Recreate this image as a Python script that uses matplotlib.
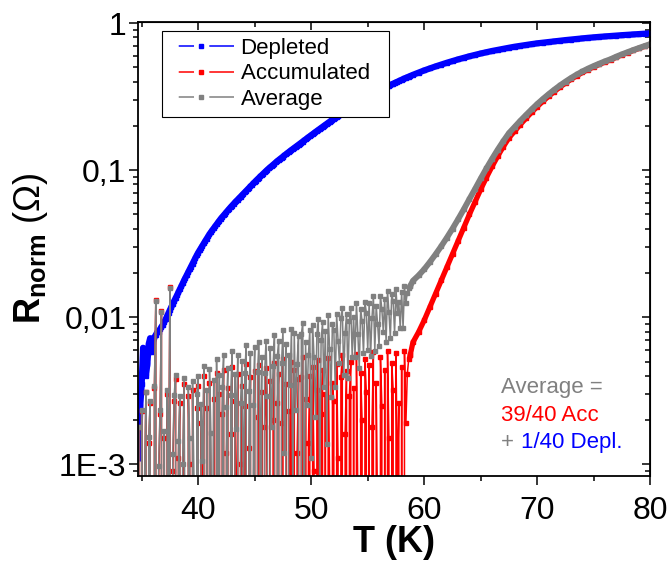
import numpy as np
import matplotlib
matplotlib.use("Agg")
import matplotlib.pyplot as plt
from matplotlib.lines import Line2D
from matplotlib.ticker import FixedLocator, FixedFormatter, MultipleLocator, NullFormatter, LogLocator

plt.rcParams['font.family'] = ['Liberation Sans', 'DejaVu Sans']
plt.rcParams['mathtext.fontset'] = 'custom'
plt.rcParams['mathtext.rm'] = 'Liberation Sans'
plt.rcParams['mathtext.bf'] = 'Liberation Sans:bold'
plt.rcParams['lines.scale_dashes'] = False

# temperature grid (K): fine steps in the noisy part, coarser above 58.75 K
T_low = np.arange(34.75, 58.63, 0.125)
T_high = np.concatenate([[58.75], np.arange(59.0, 80.01, 0.5)])
T = np.concatenate([T_low, T_high])

# depleted curve (normalised)
depleted = np.array([
    0.0011, 0.0025,
    0.0035, 0.0062, 0.0055, 0.0040, 0.0048, 0.0066, 0.0072, 0.0058,
    0.0068, 0.0073, 0.0076, 0.0079, 0.0080, 0.0083, 0.0086, 0.0089,
    0.0093, 0.0097, 0.0102, 0.0107, 0.0112, 0.0117, 0.0123, 0.0129,
    0.0135, 0.0141, 0.0148, 0.0155, 0.0162, 0.0170, 0.0178, 0.0186,
    0.0195, 0.0203, 0.0212, 0.0221, 0.0231, 0.0242, 0.0253, 0.0264,
    0.0275, 0.0285, 0.0296, 0.0307, 0.0318, 0.0330, 0.0342, 0.0354,
    0.0367, 0.0379, 0.0391, 0.0403, 0.0415, 0.0428, 0.0441, 0.0454,
    0.0468, 0.0480, 0.0493, 0.0506, 0.0519, 0.0533, 0.0547, 0.0561,
    0.0575, 0.0589, 0.0603, 0.0617, 0.0631, 0.0646, 0.0661, 0.0676,
    0.0692, 0.0708, 0.0724, 0.0741, 0.0758, 0.0776, 0.0794, 0.0813,
    0.0832, 0.0850, 0.0868, 0.0887, 0.0906, 0.0926, 0.0946, 0.0967,
    0.0989, 0.1008, 0.1027, 0.1047, 0.1067, 0.1088, 0.1109, 0.1131,
    0.1153, 0.1173, 0.1193, 0.1214, 0.1236, 0.1258, 0.1280, 0.1303,
    0.1327, 0.1349, 0.1371, 0.1394, 0.1417, 0.1440, 0.1464, 0.1489,
    0.1514, 0.1539, 0.1565, 0.1591, 0.1618, 0.1645, 0.1673, 0.1701,
    0.1730, 0.1758, 0.1787, 0.1817, 0.1847, 0.1877, 0.1908, 0.1940,
    0.1972, 0.2003, 0.2035, 0.2067, 0.2100, 0.2134, 0.2168, 0.2203,
    0.2239, 0.2272, 0.2306, 0.2341, 0.2376, 0.2412, 0.2448, 0.2485,
    0.2523, 0.2558, 0.2594, 0.2631, 0.2669, 0.2707, 0.2745, 0.2785,
    0.2825, 0.2862, 0.2900, 0.2939, 0.2979, 0.3019, 0.3059, 0.3100,
    0.3141, 0.3180, 0.3220, 0.3260, 0.3301, 0.3342, 0.3383, 0.3425,
    0.3467, 0.3508, 0.3550, 0.3590, 0.3631, 0.3671, 0.3712, 0.3752,
    0.3793, 0.3833, 0.3873, 0.3914, 0.3955, 0.3996, 0.4038, 0.4079,
    0.4121, 0.4161, 0.4201, 0.4241, 0.4281, 0.4322,
    0.4363,
    0.4446, 0.4604, 0.4764, 0.4915, 0.5070, 0.5218, 0.5370, 0.5514,
    0.5662, 0.5801, 0.5943, 0.6075, 0.6209, 0.6332, 0.6457, 0.6569,
    0.6683, 0.6792, 0.6902, 0.6998, 0.7096, 0.7187, 0.7278, 0.7354,
    0.7430, 0.7508, 0.7586, 0.7656, 0.7727, 0.7798, 0.7870, 0.7934,
    0.7998, 0.8054, 0.8110, 0.8166, 0.8222, 0.8270, 0.8318, 0.8366,
    0.8414, 0.8462, 0.8511,
])

# accumulated curve: noisy part 34.75-58.625 K (units of 1e-3)
acc_noise_milli = [
    1.8, -1.0,
    2.3, -1.5, 0.6, 3.1, -2.4, 1.4, 2.6, -0.8,
    -2.0, 3.3, 13.0, -1.9, 0.8, 2.2, 11.0, -1.2,
    1.5, -2.5, 3.0, 0.5, 16.0, -2.1, 0.9, 2.7,
    3.8, -1.8, 1.1, 2.6, -2.9, 0.6, 3.5, -0.4,
    -2.2, 2.9, 1.0, -3.3, 3.2, 0.2, -1.7, 2.4,
    3.4, -3.0, 1.9, 0.3, 4.0, -1.4, 2.4, -2.6,
    3.6, 0.7, -0.9, 2.8, -1.9, 4.2, -0.8, 3.0,
    -3.1, 2.2, 4.4, -1.6, 1.2, 3.3, -2.8, 1.6,
    4.6, -3.4, 2.7, 0.2, 4.1, -2.9, 1.0, 3.4,
    -1.2, 2.5, 4.8, -3.6, 1.3, 3.9, -2.4, 0.5,
    4.3, -3.9, 2.1, 4.7, -1.5, 3.1, -3.2, 1.8,
    4.5, 0.4, -2.7, 3.7, -0.9, 2.0, 4.9, -3.5,
    2.6, 4.1, -4.2, 1.9, 5.2, -2.0, 3.5, -4.6,
    2.3, 0.1, 5.0, -3.0, 4.4, -1.3, 1.2, 3.8,
    -4.8, 3.9, 5.4, -3.8, 2.8, -1.6, 1.4, 4.0,
    -3.3, 4.6, 0.9, -2.5, 3.2, 5.1, -4.1, 2.2,
    4.4, -1.7, 3.0, -3.9, 5.3, 0.8, -2.6, 3.6,
    2.7, -2.4, 4.8, 1.1, -1.1, 3.9, 5.5, -2.2,
    1.6, 4.3, -2.7, 2.9, 5.0, -1.4, 3.3, -1.6,
    5.6, 0.6, -2.8, 4.2, 2.0, -1.9, 5.2, 3.1,
    -1.9, 4.7, -2.7, 1.8, 5.8, -2.5, 3.6, 0.4,
    -2.3, 5.4, 2.5, -1.0, 4.4, -2.4, 5.9, 1.5,
    -2.3, 4.9, 3.2, -2.0, 5.7, 0.7, 2.6, -1.8,
    4.6, -2.0, 5.9, 1.9, 4.1, 5.2,
]
# accumulated curve: rising part 58.75-80 K
acc_rise = [
    0.00550, 0.00676, 0.00794, 0.00955, 0.01175, 0.01445, 0.01778, 0.02188,
    0.02692, 0.03311, 0.04074, 0.05012, 0.06095, 0.07413, 0.08913, 0.1059,
    0.1245, 0.1445, 0.1660, 0.1841, 0.2042, 0.2249, 0.2472, 0.2704,
    0.2938, 0.3177, 0.3420, 0.3664, 0.3908, 0.4150, 0.4385, 0.4613,
    0.4831, 0.5035, 0.5236, 0.5433, 0.5623, 0.5861, 0.6081, 0.6295,
    0.6516, 0.6730, 0.6950, 0.7161,
]
accumulated = np.concatenate([np.array(acc_noise_milli) * 1e-3, acc_rise])

# average as written on the chart: 39/40 Acc + 1/40 Depl.
average = 39 / 40 * accumulated + 1 / 40 * depleted

n_noise = len(acc_noise_milli)
assert len(T) == len(depleted) == len(accumulated), (len(T), len(depleted), len(accumulated))

y_ticks = [1e-3, 1e-2, 1e-1, 1]
y_tick_labels = ['1E-3', '0,01', '0,1', '1']
x_ticks = [40, 50, 60, 70, 80]

blue, red, grey = '#0000FF', '#FF0000', '#808080'

fig = plt.figure(figsize=(6.7, 5.62), dpi=100)
ax = fig.add_axes([0.2064, 0.1539, 0.7642, 0.8078])
ax.set_yscale('log', nonpositive='clip')

ax.plot(T, depleted, color=blue, lw=4.5, marker='s', ms=3)
ax.plot(T[:n_noise + 1], accumulated[:n_noise + 1], color=red, lw=1.1, marker='s', ms=3)
ax.plot(T[n_noise:], accumulated[n_noise:], color=red, lw=3.8, marker='s', ms=3)
ax.plot(T[:n_noise + 1], average[:n_noise + 1], color=grey, lw=1.1, marker='s', ms=3)
ax.plot(T[n_noise:], average[n_noise:], color=grey, lw=4.2, marker='s', ms=3)

ax.set_xlim(34.7, 80)
ax.set_ylim(0.00084, 1.024)

ax.xaxis.set_major_locator(FixedLocator(x_ticks))
ax.xaxis.set_minor_locator(MultipleLocator(5))
ax.yaxis.set_major_locator(FixedLocator(y_ticks))
ax.yaxis.set_major_formatter(FixedFormatter(y_tick_labels))
ax.yaxis.set_minor_locator(LogLocator(base=10, subs=np.arange(2, 10)))
ax.yaxis.set_minor_formatter(NullFormatter())

ax.tick_params(which='major', direction='out', length=6.5, width=1.1, labelsize=23, pad=2)
ax.tick_params(axis='x', which='major', pad=8)
ax.tick_params(which='minor', direction='out', length=3.5, width=1.1)
for s in ax.spines.values():
    s.set_linewidth(1.3)

top = ax.secondary_xaxis('top')
top.xaxis.set_major_locator(FixedLocator(x_ticks))
top.xaxis.set_minor_locator(MultipleLocator(5))
top.xaxis.set_major_formatter(NullFormatter())
top.tick_params(which='major', direction='in', length=6, width=1.1)
top.tick_params(which='minor', direction='in', length=3.5, width=1.1)

right = ax.secondary_yaxis('right')
right.yaxis.set_major_locator(FixedLocator(y_ticks))
right.yaxis.set_minor_locator(LogLocator(base=10, subs=np.arange(2, 10)))
right.yaxis.set_major_formatter(NullFormatter())
right.yaxis.set_minor_formatter(NullFormatter())
right.tick_params(which='major', direction='in', length=6, width=1.1)
right.tick_params(which='minor', direction='in', length=3.5, width=1.1)

ax.set_xlabel('T (K)', fontsize=26, fontweight='bold')
ax.xaxis.set_label_coords(0.5, -0.109)
ax.set_ylabel(r'$\mathbf{R_{norm}}$ (Ω)', fontsize=26)
ax.yaxis.set_label_coords(-0.172, 0.5)

# legend keys: dash, square, dash (leading/trailing blank keeps the square centred)
key_dashes = (0, (0.01, 7, 11, 11, 18, 0.01))
handles = [
    Line2D([], [], color=c, lw=1.1, ls=key_dashes, marker='s', ms=3)
    for c in (blue, red, grey)
]
leg = ax.legend(handles, ['Depleted', 'Accumulated  ', 'Average'],
                loc='upper left', bbox_to_anchor=(0.046, 0.979), borderaxespad=0,
                fontsize=16, numpoints=1, handlelength=2.94, handletextpad=0.3,
                labelspacing=0.21, borderpad=0.3, fancybox=False, framealpha=1)
leg.get_frame().set_edgecolor('black')
leg.get_frame().set_linewidth(0.8)

ax.text(0.708, 0.182, 'Average =', transform=ax.transAxes, color=grey, fontsize=16)
ax.text(0.708, 0.120, '39/40 Acc', transform=ax.transAxes, color=red, fontsize=16)
ax.text(0.708, 0.061, '+', transform=ax.transAxes, color=grey, fontsize=16)
ax.text(0.747, 0.061, '1/40 Depl.', transform=ax.transAxes, color=blue, fontsize=16)

fig.savefig('out.png', dpi=100)
